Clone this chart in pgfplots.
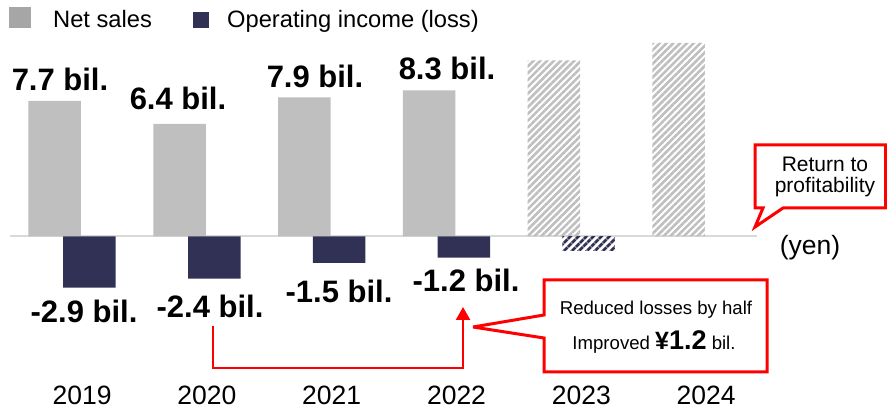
\documentclass[border=0pt]{standalone}
\usepackage{pgfplots}
\pgfplotsset{compat=1.18}
\usepackage{fontspec}
\setmainfont{Liberation Sans}
\usetikzlibrary{patterns.meta,arrows.meta}
\definecolor{salesgray}{HTML}{BFBFBF}
\definecolor{leggray}{HTML}{A6A6A6}
\definecolor{hatchgray}{HTML}{BFBFBF}
\definecolor{navy}{HTML}{313155}
\definecolor{zerogray}{HTML}{D9D9D9}
\newcommand\fs[1]{\fontsize{#1bp}{#1bp}\selectfont}
\begin{document}
\begin{tikzpicture}
\begin{axis}[name=ax, at={(0,0)}, anchor=south west,
  width=887bp, height=411bp, scale only axis,
  xmin=-0.5777, xmax=6.5296, ymin=-9.915, ymax=13.4375,
  axis line style={draw=none}, tick style={draw=none},
  major tick length=0pt,
  ytick=\empty, xtick={0,1,2,3,4,5},
  xticklabels={2019,2020,2021,2022,2023,2024},
  xticklabel style={font=\fs{26.5}, anchor=base, yshift=7bp, xshift=10bp},
  clip=false]
\addplot[zerogray, line width=2bp] coordinates {(-0.498,0) (5.488,0)};
\addplot[ybar, bar width=0.4207, bar shift=-0.1394, fill=salesgray, draw=none]
  coordinates {(0,7.7) (1,6.4) (2,7.9) (3,8.3)};
\addplot[ybar, bar width=0.4207, bar shift=-0.1394, draw=none,
  pattern={Lines[angle=45,distance=4.8bp,line width=2.6bp]}, pattern color=hatchgray]
  coordinates {(4,10.0) (5,11.0)};
\addplot[ybar, bar width=0.4207, bar shift=0.1394, fill=navy, draw=none]
  coordinates {(0,-2.9) (1,-2.4) (2,-1.5) (3,-1.2)};
\addplot[ybar, bar width=0.4207, bar shift=0.1394, draw=none,
  pattern={Lines[angle=45,distance=6bp,line width=3.2bp]}, pattern color=navy]
  coordinates {(4,-0.8)};
\end{axis}
\begin{scope}[shift={(ax.north west)}, x=1bp, y=-1bp]
  % legend
  \fill[leggray] (9,7) rectangle (31,28);
  \node[anchor=base west, inner sep=0] at (53,28) {\fs{23.7}Net sales};
  \fill[navy] (193,12) rectangle (209,28);
  \node[anchor=base west, inner sep=0] at (227,28) {\fs{23.7}Operating income (loss)};
  % value labels
  \begin{scope}[every node/.style={anchor=base, inner sep=0, font=\fs{31}\bfseries}]
  \node at (60,91) {7.7 bil.};
  \node at (178,110) {6.4 bil.};
  \node at (315,87.7) {7.9 bil.};
  \node at (447,79.3) {8.3 bil.};
  \node at (84,323) {-2.9 bil.};
  \node at (210,318) {-2.4 bil.};
  \node at (339,303) {-1.5 bil.};
  \node at (466,291.7) {-1.2 bil.};
  \end{scope}
  \node[anchor=base, inner sep=0] at (810,255) {\fs{26.5}(yen)};
  % arrow
  \draw[red, line width=2.5bp, -{Triangle[width=14bp,length=13bp]}]
    (213,326) -- (213,368) -- (463,368) -- (463,307);
  % callout 1
  \draw[red, line width=3bp, fill=white, miter limit=4]
    (755,145) -- (885.5,145) -- (885.5,208) -- (783,208) -- (755,227) -- (763,208) -- (755,208) -- cycle;
  \node[anchor=base, inner sep=0] at (825,171.7) {\fs{21}Return to};
  \node[anchor=base, inner sep=0] at (825,193) {\fs{21}profitability};
  % callout 2
  \draw[red, line width=3bp, fill=white, miter limit=4]
    (544,280) -- (767,280) -- (767,372) -- (544,372) -- (544,338) -- (473,327) -- (544,315) -- cycle;
  \node[anchor=base, inner sep=0] at (656,315) {\fs{18.6}Reduced losses by half};
  \node[anchor=base, inner sep=0] at (654,350) {\fs{18.6}Improved {\fs{25}\bfseries ¥}{\fs{27}\bfseries 1.2} bil.};
\end{scope}
\pgfresetboundingbox
\useasboundingbox (ax.south west) rectangle (ax.north east);
\end{tikzpicture}
\end{document}
